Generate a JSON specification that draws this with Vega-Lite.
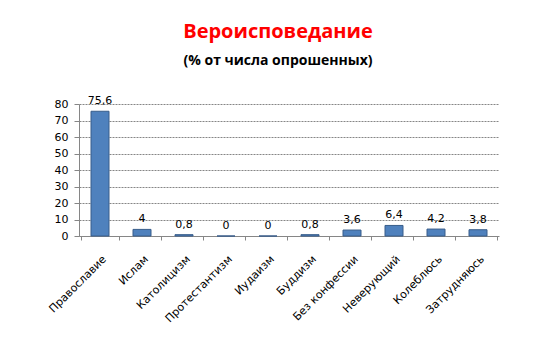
{
  "$schema": "https://vega.github.io/schema/vega-lite/v6.json",
  "autosize": {"type": "none"},
  "padding": {"left": 79, "top": 104, "right": 51, "bottom": 110},
  "width": 420,
  "height": 132,
  "background": "white",
  "config": {
    "locale": {"number": {"decimal": ",", "thousands": " ", "grouping": [3], "currency": ["", " ₽"]}},
    "view": {"stroke": null},
    "font": "DejaVu Sans"
  },
  "title": {
    "text": "Вероисповедание",
    "subtitle": "(% от числа опрошенных)",
    "color": "#FF0000",
    "font": "Open Sans",
    "fontSize": 20,
    "fontWeight": "bold",
    "subtitleFont": "Open Sans",
    "subtitleColor": "#000000",
    "subtitleFontSize": 14,
    "subtitleFontWeight": "bold",
    "subtitlePadding": 12,
    "anchor": "middle",
    "dx": -11,
    "offset": 27
  },
  "data": {
    "values": [
      {"c": "Православие", "v": 75.6},
      {"c": "Ислам", "v": 4},
      {"c": "Католицизм", "v": 0.8},
      {"c": "Протестантизм", "v": 0},
      {"c": "Иудаизм", "v": 0},
      {"c": "Буддизм", "v": 0.8},
      {"c": "Без конфессии", "v": 3.6},
      {"c": "Неверующий", "v": 6.4},
      {"c": "Колеблюсь", "v": 4.2},
      {"c": "Затрудняюсь", "v": 3.8}
    ]
  },
  "encoding": {
    "x": {
      "field": "c", "type": "nominal", "sort": null, "title": null,
      "axis": {
        "labelAngle": -45, "labelFontSize": 11, "labelColor": "#000000",
        "domainColor": "#868686", "tickColor": "#868686", "tickBand": "extent",
        "tickSize": 4, "labelPadding": 13, "labelLimit": 140
      }
    },
    "y": {
      "field": "v", "type": "quantitative", "title": null,
      "scale": {"domain": [0, 80], "nice": false},
      "axis": {
        "values": [0, 10, 20, 30, 40, 50, 60, 70, 80],
        "labelFontSize": 11, "labelColor": "#000000",
        "domainColor": "#868686", "tickColor": "#868686", "tickSize": 5,
        "gridColor": "#868686", "gridDash": [2, 1], "labelPadding": 6
      }
    }
  },
  "layer": [
    {"mark": {"type": "bar", "size": 18, "color": "#4F81BD", "stroke": "#385D8A", "strokeWidth": 1}},
    {"mark": {"type": "text", "dy": -10, "fontSize": 11, "color": "#000000"},
     "encoding": {"text": {"field": "v", "type": "quantitative", "format": ".1~f"}}}
  ]
}
